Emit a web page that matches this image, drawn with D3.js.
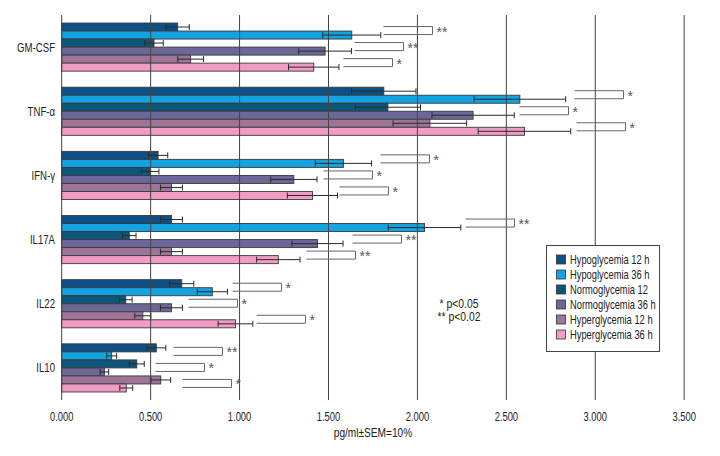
<!DOCTYPE html>
<html><head><meta charset="utf-8">
<script src="https://cdn.jsdelivr.net/npm/d3@7"></script>
<style>
body{margin:0;background:#fff;}
svg text{font-family:"Liberation Sans",Arial,sans-serif;}
</style></head>
<body><svg id="c" width="720" height="456"></svg>
<script>
const categories = ["GM-CSF","TNF-α","IFN-γ","IL17A","IL22","IL10"];
const seriesNames = ["Hypoglycemia 12 h","Hypoglycemia 36 h","Normoglycemia 12","Normoglycemia 36 h","Hyperglycemia 12 h","Hyperglycemia 36 h"];
const colors = ["#0d5088","#12a3e0","#0d557a","#6b6797","#9e7499","#f09cc4"];
// values per category, in series order
const hypo12 = [0.652,1.811,0.542,0.617,0.675,0.532];
const hypo36 = [1.631,2.576,1.584,2.040,0.847,0.281];
const normo12 = [0.519,1.834,0.497,0.380,0.360,0.422];
const normo36 = [1.481,2.313,1.305,1.438,0.617,0.240];
const hyper12 = [0.725,2.070,0.617,0.617,0.456,0.557];
const hyper36 = [1.417,2.602,1.410,1.218,0.977,0.363];
const semFraction = 0.10;
const xTicks = [0,0.5,1,1.5,2,2.5,3,3.5];
// significance brackets: category, first series index of the pair, right end (pg/ml), label
const brCategory = ["GM-CSF","GM-CSF","GM-CSF","TNF-α","TNF-α","TNF-α","IFN-γ","IFN-γ","IFN-γ","IL17A","IL17A","IL17A","IL22","IL22","IL22","IL10","IL10","IL10"];
const brSeries = [0,2,4,0,2,4,0,2,4,0,2,4,0,2,4,0,2,4];
const brEnd = [2.084,1.921,1.856,3.155,2.844,3.168,2.067,1.744,1.837,2.542,1.910,1.650,1.232,0.984,1.368,0.903,0.802,0.950];
const brLabel = ["**","**","*","*","*","*","*","*","*","**","**","**","*","*","*","**","*","*"];
const pNotes = ["* p<0.05","** p<0.02"];
const xTitle = "pg/ml±SEM=10%";

const allSeries = [hypo12,hypo36,normo12,normo36,hyper12,hyper36];
const svg = d3.select("#c");
const x = d3.scaleLinear().domain([0,3.5]).range([61.7,684.2]);
const y0 = d3.scaleBand().domain(categories).range([15,400]).paddingInner(0.25).paddingOuter(0.125);
const y1 = d3.scaleBand().domain(d3.range(6)).range([0,y0.bandwidth()]);

// condensed text helper
function ctext(g, tx, ty, str, size, anchor, sx){
  return g.append("text")
    .attr("transform",`translate(${tx},${ty}) scale(${sx||0.72},1)`)
    .attr("dy","0.35em").attr("text-anchor",anchor||"start")
    .attr("font-size",size).attr("fill","#222").text(str);
}

const rows = [];
categories.forEach((c,ci)=>allSeries.forEach((s,si)=>rows.push({c,ci,si,v:s[ci]})));

// bars
svg.append("g").selectAll("rect").data(rows).join("rect")
  .attr("x",x(0)).attr("y",d=>y0(d.c)+y1(d.si))
  .attr("width",d=>x(d.v)-x(0)).attr("height",y1.bandwidth())
  .attr("fill",d=>colors[d.si]).attr("stroke","#3a3a3a").attr("stroke-width",0.9);

// gridlines (drawn over bars)
svg.append("g").selectAll("line").data(xTicks).join("line")
  .attr("x1",d=>x(d)).attr("x2",d=>x(d)).attr("y1",15).attr("y2",400)
  .attr("stroke","#444").attr("stroke-width",1);

// error bars
const eg = svg.append("g").attr("stroke","#2a2a2a").attr("stroke-width",1);
rows.forEach(d=>{
  const cy = y0(d.c)+y1(d.si)+y1.bandwidth()/2;
  const lo = x(d.v*(1-semFraction)), hi = x(d.v*(1+semFraction));
  eg.append("line").attr("x1",lo).attr("x2",hi).attr("y1",cy).attr("y2",cy);
  eg.append("line").attr("x1",lo).attr("x2",lo).attr("y1",cy-3).attr("y2",cy+3);
  eg.append("line").attr("x1",hi).attr("x2",hi).attr("y1",cy-3).attr("y2",cy+3);
});

// brackets
const brW = 49;
const bg = svg.append("g");
brEnd.forEach((e,i)=>{
  const c = brCategory[i], s = brSeries[i];
  const ya = y0(c)+y1(s)+y1.bandwidth()/2 - 0.5;
  const yb = y0(c)+y1(s+1)+y1.bandwidth()/2 - 0.5;
  const xr = Math.round(x(e))+0.5, xl = xr-brW;
  bg.append("path").attr("d",`M${xl},${ya}H${xr}V${yb}H${xl}`)
    .attr("fill","none").attr("stroke","#666").attr("stroke-width",1);
  bg.append("text").attr("x",xr+4).attr("y",(ya+yb)/2+6)
    .attr("font-size",14).attr("fill","#555").text(brLabel[i]);
});

// category labels
const cg = svg.append("g");
categories.forEach(c=>ctext(cg,55,y0(c)+y0.bandwidth()/2,c,13,"end",0.74));

// x tick labels
const tg = svg.append("g");
xTicks.forEach(t=>ctext(tg,x(t),416,d3.format(".3f")(t),13,"middle",0.72));

ctext(svg,(x(0)+x(3.5))/2,432,xTitle,13.5,"middle",0.75);

// p notes
pNotes.forEach((p,i)=>ctext(svg,459,303+i*13,p,13,"middle",0.8));

// legend
const lg = svg.append("g");
lg.append("rect").attr("x",546.5).attr("y",245.5).attr("width",113).attr("height",106)
  .attr("fill","#fff").attr("stroke","#444").attr("stroke-width",1);
seriesNames.forEach((n,i)=>{
  const cy = 259.5+i*15;
  lg.append("rect").attr("x",556.5).attr("y",cy-4.5).attr("width",9).attr("height",9)
    .attr("fill",colors[i]).attr("stroke","#333").attr("stroke-width",0.8);
  ctext(lg,570,cy,n,13,"start",0.72);
});
</script></body></html>
